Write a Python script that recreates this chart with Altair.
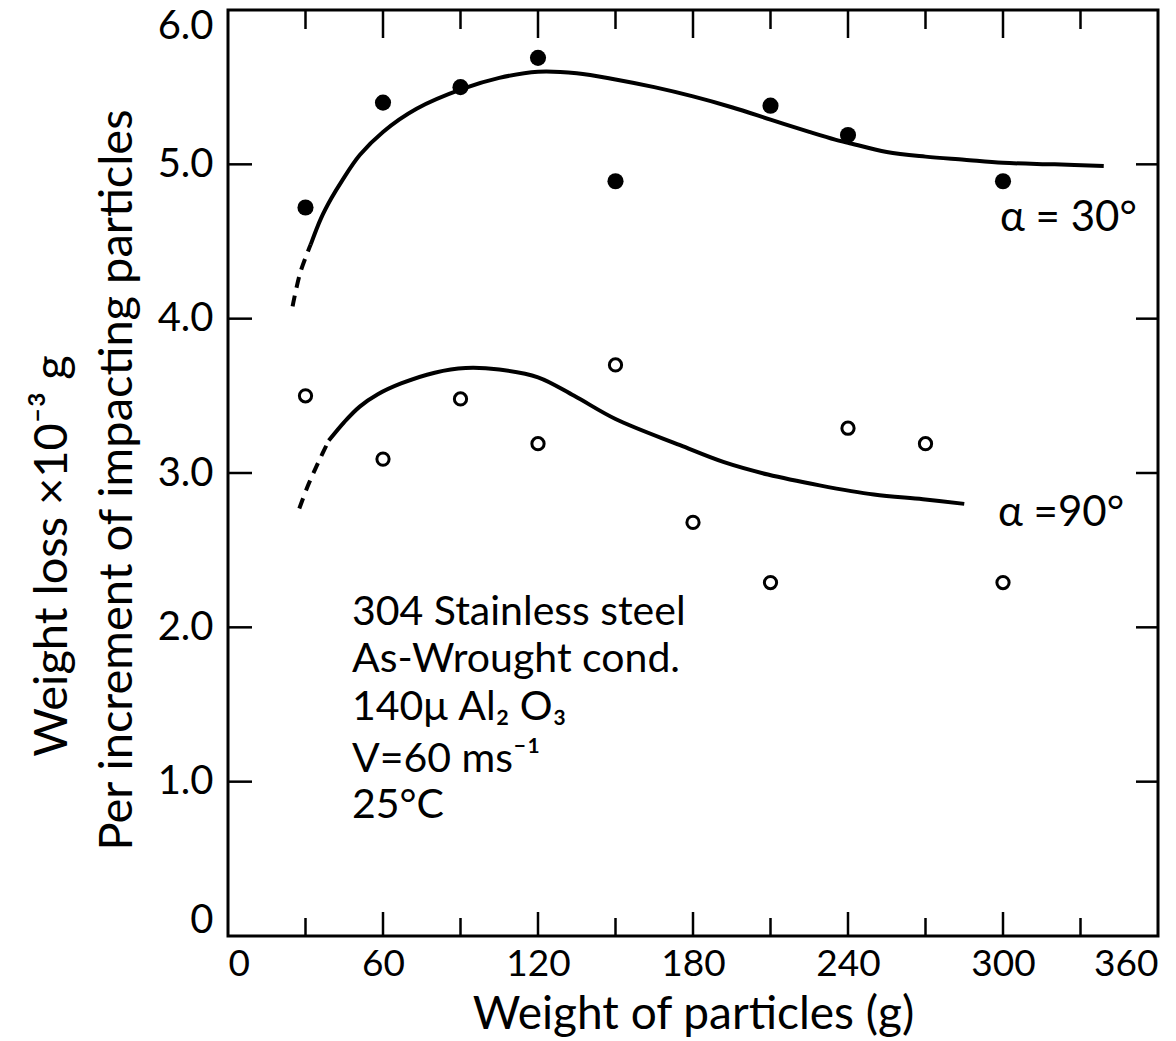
import altair as alt
import pandas as pd

# ---------------- data ----------------
# alpha = 30 deg (filled circles)
x30 = [30, 60, 90, 120, 150, 210, 240, 300]
y30 = [4.72, 5.40, 5.50, 5.69, 4.89, 5.38, 5.19, 4.89]
# alpha = 90 deg (open circles)
x90 = [30, 60, 90, 120, 150, 180, 210, 240, 270, 300]
y90 = [3.50, 3.09, 3.48, 3.19, 3.70, 2.68, 2.29, 3.29, 3.19, 2.29]

# fitted curve, alpha = 30 (dashed start, then solid)
c30_dash_x = [25, 28, 32]
c30_dash_y = [4.08, 4.30, 4.48]
c30_x = [32, 36, 40, 44, 51, 60, 73, 91, 105, 120, 135, 150, 165, 180, 195,
         210, 225, 235, 240, 255, 270, 285, 300, 320, 339]
c30_y = [4.48, 4.65, 4.78, 4.89, 5.06, 5.21, 5.36, 5.49, 5.56, 5.60, 5.59,
         5.55, 5.50, 5.44, 5.37, 5.29, 5.21, 5.16, 5.14, 5.08, 5.05, 5.03,
         5.01, 5.00, 4.99]

# fitted curve, alpha = 90
c90_dash_x = [27.6, 31, 35, 39]
c90_dash_y = [2.77, 2.92, 3.07, 3.21]
c90_x = [39, 45, 51, 58, 67, 80, 92, 105, 120, 134, 150, 175, 192, 209, 229,
         250, 269, 285]
c90_y = [3.21, 3.33, 3.43, 3.51, 3.58, 3.65, 3.68, 3.67, 3.62, 3.50, 3.35,
         3.18, 3.07, 2.99, 2.92, 2.86, 2.83, 2.80]

x_label_values = [0, 60, 120, 180, 240, 300, 360]
y_label_values = [0, 1, 2, 3, 4, 5, 6]
x_major_ticks = [60, 120, 180, 240, 300]
x_minor_ticks = [30, 90, 150, 210, 270, 330]
y_ticks = [1, 2, 3, 4, 5]

x_title = "Weight of particles (g)"
y_title_1 = "Weight loss ×10⁻³ g"
y_title_2 = "Per increment of impacting particles"
series_labels = ["α = 30°", "α =90°"]
annot_lines = ["304 Stainless steel", "As-Wrought cond.", "140μ Al₂ O₃",
               "V=60 ms⁻¹", "25°C"]

# ---------------- chart ----------------
W, H = 930, 926
FONT = "Lato"

xs = alt.Scale(domain=[0, 360], nice=False, zero=False)
ys = alt.Scale(domain=[0, 6], nice=False, zero=False)

xaxis = alt.Axis(values=x_label_values, title=x_title, grid=False, ticks=False,
                 domain=False, labelFontSize=37, labelPadding=10,
                 labelFlush=True, labelFont=FONT, labelColor="black",
                 titleFont=FONT, titleFontSize=46, titleFontWeight="normal",
                 titleColor="black", titleBaseline="alphabetic", titleY=92)
yaxis = alt.Axis(values=y_label_values, title="", grid=False, ticks=False,
                 domain=False, labelFontSize=40, labelPadding=15,
                 labelFlush=True, labelFlushOffset=4, labelFont=FONT,
                 labelColor="black",
                 labelExpr="datum.value == 0 ? '0' : format(datum.value, '.1f')")

base_df = pd.DataFrame({"x": x30, "y": y30})
pts30 = alt.Chart(base_df).mark_circle(size=260, color="black", opacity=1).encode(
    x=alt.X("x:Q", scale=xs, axis=xaxis),
    y=alt.Y("y:Q", scale=ys, axis=yaxis),
)
pts90 = alt.Chart(pd.DataFrame({"x": x90, "y": y90})).mark_point(
    shape="circle", filled=False, size=150, strokeWidth=3, color="black",
    opacity=1).encode(x=alt.X("x:Q", scale=xs), y=alt.Y("y:Q", scale=ys))


def curve(xv, yv, dashed):
    kw = dict(color="black", strokeWidth=4, interpolate="catmull-rom")
    if dashed:
        kw["strokeDash"] = [11, 8]
    return alt.Chart(pd.DataFrame({"x": xv, "y": yv})).mark_line(**kw).encode(
        x=alt.X("x:Q", scale=xs), y=alt.Y("y:Q", scale=ys))


lines = [curve(c30_dash_x, c30_dash_y, True), curve(c30_x, c30_y, False),
         curve(c90_dash_x, c90_dash_y, True), curve(c90_x, c90_y, False)]


def xticks(vals, y0, y1):
    return alt.Chart(pd.DataFrame({"x": vals})).mark_rule(
        color="black", strokeWidth=2.5).encode(
        x=alt.X("x:Q", scale=xs), y=alt.value(y0), y2=alt.value(y1))


def yticks(vals, x0, x1):
    return alt.Chart(pd.DataFrame({"y": vals})).mark_rule(
        color="black", strokeWidth=2.5).encode(
        y=alt.Y("y:Q", scale=ys), x=alt.value(x0), x2=alt.value(x1))


ticks = [xticks(x_major_ticks, 0, 28), xticks(x_minor_ticks, 0, 19),
         xticks(x_major_ticks, H, H - 24), xticks(x_minor_ticks, H, H - 18),
         yticks(y_ticks, 0, 24), yticks(y_ticks, W, W - 22)]


def label(txt, x, y, size, angle=0, align="left", baseline="middle"):
    return alt.Chart(pd.DataFrame({"t": [txt]})).mark_text(
        font=FONT, fontSize=size, color="black", align=align,
        baseline=baseline, angle=angle).encode(
        x=alt.value(x), y=alt.value(y), text="t:N")


texts = [
    label(y_title_1, -161, 546, 47, angle=270, align="center",
          baseline="alphabetic"),
    label(y_title_2, -96, 470, 47, angle=270, align="center",
          baseline="alphabetic"),
    label(series_labels[0], 772, 208, 42),
    label(series_labels[1], 770, 503, 42),
]
annot_baselines = [615, 662, 710, 762, 808]
for t, b in zip(annot_lines, annot_baselines):
    texts.append(label(t, 124, b, 41, baseline="alphabetic"))

chart = alt.layer(pts30, pts90, *lines, *ticks, *texts).properties(
    width=W, height=H,
    background="white",
    autosize=alt.AutoSizeParams(type="none"),
    padding={"left": 228, "top": 10, "right": 18, "bottom": 105},
).configure_view(stroke="black", strokeWidth=3)

chart.save("out.html", embed_options={"renderer": "svg", "actions": False})
